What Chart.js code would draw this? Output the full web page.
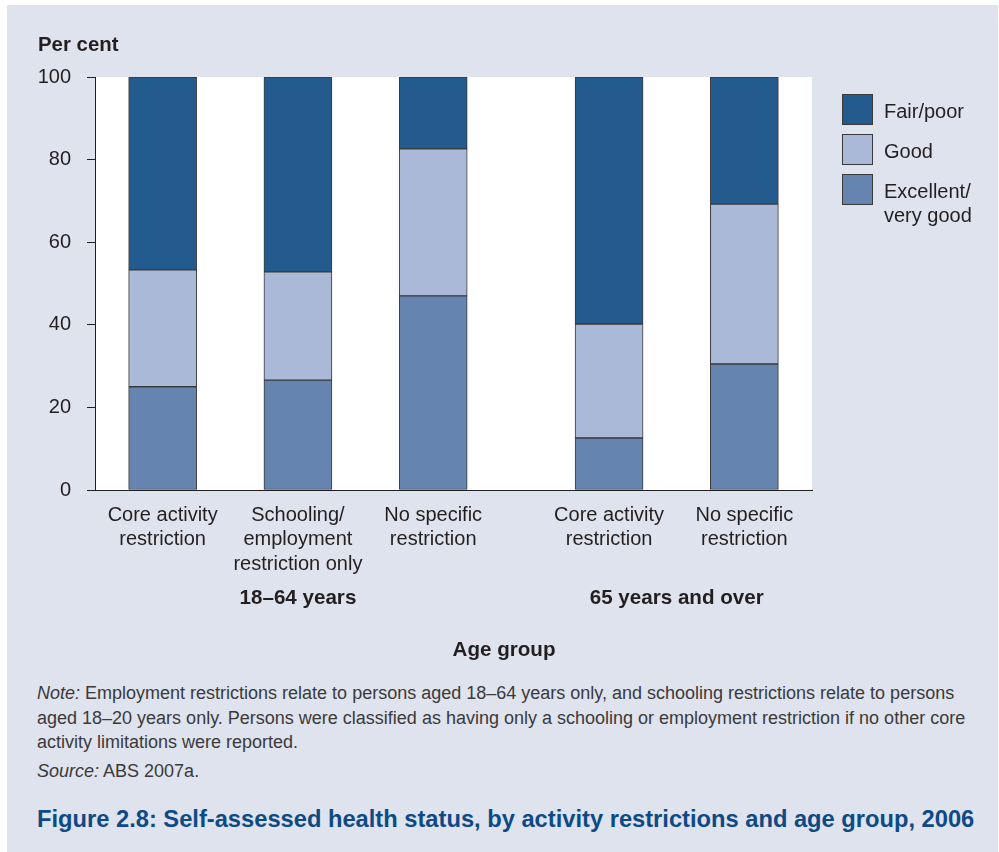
<!DOCTYPE html>
<html>
<head>
<meta charset="utf-8">
<script src="https://cdn.jsdelivr.net/npm/chart.js@4.4.1/dist/chart.umd.min.js"></script>
<style>
  html, body { margin: 0; padding: 0; background: #ffffff; }
  body { width: 999px; height: 852px; position: relative; overflow: hidden;
         font-family: "Liberation Sans", Arial, Helvetica, sans-serif; color: #231f20; }
  #panel { position: absolute; left: 7px; top: 5px; width: 991px; height: 847px; background: #dfe3ee; }
  #wrap { position: absolute; left: 7px; top: 5px; width: 991px; height: 675px; }
  #perCent { position: absolute; left: 38px; top: 32px; font-weight: bold; font-size: 20.4px; line-height: 24px; }
  #ageGroup { position: absolute; left: 0; width: 1008px; top: 637px; text-align: center; font-weight: bold; font-size: 20.6px; line-height: 24px; }
  #legend { position: absolute; left: 842px; top: 94px; }
  .li { position: relative; height: 40px; }
  .sw { position: absolute; left: 0; top: 0; width: 29px; height: 29px; border: 1.3px solid #3a3a3a; }
  .lt { position: absolute; left: 42px; top: 5px; font-size: 20px; line-height: 24px; white-space: nowrap; }
  #note { position: absolute; left: 37px; top: 681px; width: 955px; font-size: 18px; line-height: 24.5px; color: #3a3a3a; }
  #note p { margin: 0; }
  #source { margin-top: 4px !important; }
  #figTitle { position: absolute; left: 37px; top: 805px; font-weight: bold; font-size: 23.7px; line-height: 28px; color: #0d4a86; white-space: nowrap; }
</style>
</head>
<body>
<div id="panel"></div>
<div id="wrap"><canvas id="c" width="991" height="675"></canvas></div>
<div id="perCent">Per cent</div>
<div id="ageGroup">Age group</div>
<div id="legend"></div>
<div id="note">
  <p><i>Note:</i> Employment restrictions relate to persons aged 18–64 years only, and schooling restrictions relate to persons aged 18–20 years only. Persons were classified as having only a schooling or employment restriction if no other core activity limitations were reported.</p>
  <p id="source"><i>Source:</i> ABS 2007a.</p>
</div>
<div id="figTitle">Figure 2.8: Self-assessed health status, by activity restrictions and age group, 2006</div>
<script>
// ---- data ----
const groupNames = ['18–64 years', '65 years and over'];
const groupSizes = [3, 2];
const categories = [
  ['Core activity', 'restriction'],
  ['Schooling/', 'employment', 'restriction only'],
  ['No specific', 'restriction'],
  ['Core activity', 'restriction'],
  ['No specific', 'restriction']
];
const seriesNames = ['Excellent/ very good', 'Good', 'Fair/poor'];
const legendLabels = [['Excellent/', 'very good'], ['Good'], ['Fair/poor']];
const excellent = [25.0, 26.6, 47.0, 12.6, 30.5];
const good      = [28.3, 26.2, 35.6, 27.6, 38.7];
const fairPoor  = [46.7, 47.2, 17.4, 59.8, 30.8];
const yTicks = [0, 20, 40, 60, 80, 100];

// ---- layout (positions along x in category units, extra gap between groups) ----
const GROUP_GAP = 0.3;
const xPos = [];
const groupCenters = [];
let cursor = 0;
groupSizes.forEach((n) => {
  const start = cursor;
  for (let i = 0; i < n; i++) xPos.push(cursor + i);
  groupCenters.push(start + (n - 1) / 2);
  cursor += n + GROUP_GAP;
});
const xMin = -0.5, xMax = xPos[xPos.length - 1] + 0.5;

const colors = ['#6584b0', '#aab9d7', '#235b8e'];
const values = [excellent, good, fairPoor];
const TXT = '#231f20';
const FONT = '"Liberation Sans", Arial, Helvetica, sans-serif';

const datasets = values.map((arr, k) => ({
  label: seriesNames[k],
  data: arr.map((v, i) => ({ x: xPos[i], y: v })),
  backgroundColor: colors[k],
  borderColor: '#3a3a3a',
  borderWidth: 1,
  borderSkipped: false,
  barThickness: 68,
  xAxisID: 'x',
  yAxisID: 'y'
}));

const chart = new Chart(document.getElementById('c'), {
  type: 'bar',
  data: { datasets },
  options: {
    responsive: false,
    animation: false,
    events: [],
    layout: { padding: { left: 0, right: 186, top: 72, bottom: 0 } },
    plugins: {
      legend: { display: false },
      tooltip: { enabled: false },
      title: { display: false }
    },
    scales: {
      x: {
        type: 'linear',
        position: 'bottom',
        stacked: true,
        offset: false,
        min: xMin, max: xMax,
        grid: { display: false },
        border: { display: true, color: TXT, width: 1 },
        afterBuildTicks: s => { s.ticks = xPos.map(v => ({ value: v })); },
        afterFit: s => { s.height = 85; },
        ticks: {
          autoSkip: false, maxRotation: 0, padding: 5,
          color: TXT,
          font: { family: FONT, size: 20, lineHeight: 1.22 },
          callback: (v, i) => categories[i]
        }
      },
      x2: {
        type: 'linear',
        position: 'bottom',
        offset: false,
        min: xMin, max: xMax,
        grid: { display: false },
        border: { display: false },
        afterBuildTicks: s => { s.ticks = groupCenters.map(v => ({ value: v })); },
        afterFit: s => { s.height = 105; },
        ticks: {
          autoSkip: false, maxRotation: 0, padding: 3,
          color: TXT,
          font: { family: FONT, size: 20.6, weight: 'bold', lineHeight: 1.2 },
          callback: (v, i) => groupNames[i]
        }
      },
      y: {
        type: 'linear',
        position: 'left',
        stacked: true,
        min: 0, max: 100,
        afterBuildTicks: s => { s.ticks = yTicks.map(v => ({ value: v })); },
        afterFit: s => { s.width = 88; },
        grid: { display: true, drawOnChartArea: false, drawTicks: true, tickLength: 8, color: TXT, lineWidth: 1 },
        border: { display: true, color: TXT, width: 1 },
        ticks: { padding: 16, color: TXT, font: { family: FONT, size: 20 } }
      }
    }
  },
  plugins: [{
    id: 'whitePlot',
    beforeDraw(c) {
      const a = c.chartArea, ctx = c.ctx;
      ctx.save();
      ctx.fillStyle = '#ffffff';
      ctx.fillRect(a.left, a.top, a.right - a.left, a.bottom - a.top);
      ctx.restore();
    }
  }]
});

// HTML legend built from the chart datasets (top-most series first)
const leg = document.getElementById('legend');
chart.data.datasets.slice().reverse().forEach((ds, r) => {
  const k = chart.data.datasets.length - 1 - r;
  const item = document.createElement('div');
  item.className = 'li';
  const sw = document.createElement('div');
  sw.className = 'sw';
  sw.style.background = ds.backgroundColor;
  const t = document.createElement('div');
  t.className = 'lt';
  t.innerHTML = legendLabels[k].join('<br>');
  item.appendChild(sw); item.appendChild(t);
  leg.appendChild(item);
});
</script>
</body>
</html>
